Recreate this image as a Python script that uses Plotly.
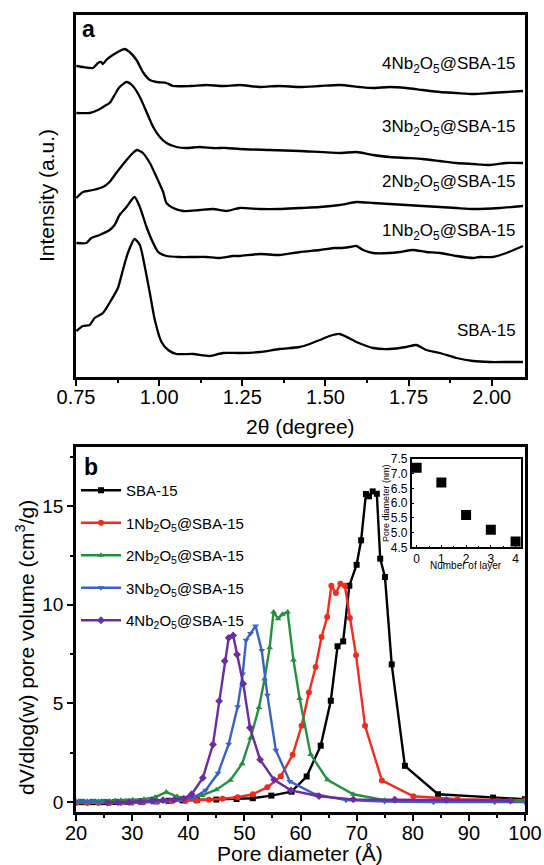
import plotly.graph_objects as go

# ---------------- Panel a: low-angle XRD (offset intensities, a.u.) ----------------
sba_x = [0.751, 0.771, 0.791, 0.806, 0.831, 0.856, 0.876, 0.891, 0.906, 0.926, 0.942, 0.957, 0.972,
         0.987, 1.007, 1.027, 1.052, 1.102, 1.152, 1.192, 1.242, 1.302, 1.362, 1.423, 1.453, 1.483,
         1.513, 1.543, 1.593, 1.643, 1.693, 1.743, 1.773, 1.803, 1.844, 1.894, 1.944, 1.994, 2.044, 2.094]
sba_y = [46, 51, 52, 59, 64, 77, 89, 107, 124, 138, 132, 110, 84, 57, 35, 27, 23, 23, 21, 24, 24, 25,
         28, 30, 33, 37, 41, 43, 35, 29, 28, 30, 32, 27, 24, 19, 16, 15, 15, 15]

nb1_x = [0.751, 0.781, 0.796, 0.821, 0.851, 0.866, 0.881, 0.902, 0.926, 0.942, 0.962, 0.982, 0.997,
         1.022, 1.062, 1.102, 1.142, 1.182, 1.222, 1.242, 1.302, 1.362, 1.423, 1.483, 1.528, 1.543,
         1.573, 1.593, 1.613, 1.643, 1.693, 1.723, 1.763, 1.803, 1.844, 1.894, 1.944, 1.964, 2.004,
         2.044, 2.094]
nb1_y = [134, 134, 139, 142, 147, 152, 162, 170, 180, 170, 150, 134, 125, 121, 120, 120, 120, 119, 121,
         121, 123, 122, 125, 127, 129, 129, 130, 131, 127, 124, 124, 125, 127, 125, 124, 121, 119, 120,
         120, 124, 131]

nb2_x = [0.751, 0.771, 0.801, 0.831, 0.851, 0.871, 0.902, 0.921, 0.933, 0.951, 0.972, 0.992, 1.012,
         1.022, 1.042, 1.072, 1.122, 1.162, 1.202, 1.242, 1.302, 1.362, 1.423, 1.483, 1.543, 1.593,
         1.643, 1.693, 1.743, 1.792, 1.844, 1.894, 1.944, 2.024, 2.094]
nb2_y = [179, 185, 187, 190, 195, 204, 217, 224, 227, 224, 214, 200, 185, 174, 169, 166, 167, 168, 166,
         169, 168, 168, 169, 170, 172, 175, 174, 173, 172, 171, 170, 169, 168, 169, 171]

nb3_x = [0.751, 0.791, 0.816, 0.836, 0.851, 0.866, 0.881, 0.902, 0.921, 0.942, 0.962, 0.982, 1.002,
         1.022, 1.052, 1.082, 1.122, 1.162, 1.202, 1.242, 1.332, 1.423, 1.543, 1.593, 1.643, 1.693,
         1.743, 1.792, 1.844, 1.894, 1.944, 1.994, 2.044, 2.094]
nb3_y = [264, 264, 267, 271, 274, 282, 290, 295, 291, 280, 265, 250, 240, 234, 230, 229, 230, 229, 229,
         228, 227, 226, 224, 225, 222, 220, 219, 218, 216, 214, 213, 212, 214, 214]

nb4_x = [0.751, 0.771, 0.801, 0.816, 0.826, 0.831, 0.841, 0.856, 0.876, 0.896, 0.911, 0.932, 0.951,
         0.972, 0.992, 1.022, 1.042, 1.092, 1.142, 1.192, 1.242, 1.302, 1.362, 1.423, 1.483, 1.543,
         1.603, 1.643, 1.693, 1.743, 1.792, 1.844, 1.894, 1.944, 1.994, 2.044, 2.094]
nb4_y = [311, 310, 309, 314, 315, 313, 317, 321, 325, 328, 325, 317, 305, 297, 295, 294, 291, 291, 292,
         291, 292, 290, 291, 290, 291, 292, 290, 289, 290, 289, 287, 285, 284, 283, 284, 285, 286]

xrd_labels = ["SBA-15", "1Nb<sub>2</sub>O<sub>5</sub>@SBA-15", "2Nb<sub>2</sub>O<sub>5</sub>@SBA-15",
              "3Nb<sub>2</sub>O<sub>5</sub>@SBA-15", "4Nb<sub>2</sub>O<sub>5</sub>@SBA-15"]
xrd_label_y = [47, 145, 194, 249, 312]

# ---------------- Panel b: BJH pore size distributions ----------------
psd_names = ["SBA-15", "1Nb<sub>2</sub>O<sub>5</sub>@SBA-15", "2Nb<sub>2</sub>O<sub>5</sub>@SBA-15",
             "3Nb<sub>2</sub>O<sub>5</sub>@SBA-15", "4Nb<sub>2</sub>O<sub>5</sub>@SBA-15"]

p0_x = [21, 23, 25, 27, 29, 31.5, 34, 36.5, 39, 41.5, 45, 48.6, 51.5, 54.8, 58.4, 61.1, 63.6, 65.4,
        66.6, 67.6, 68.7, 70.0, 70.8, 71.66, 72.2, 72.86, 73.6, 74.2, 75.05, 76.25, 78.6, 84.5, 94.3, 100]
p0_y = [0.0, 0.0, 0.0, 0.01, 0.02, 0.03, 0.05, 0.07, 0.09, 0.1, 0.13, 0.16, 0.2, 0.33, 0.53, 1.3, 2.86,
        5.14, 7.9, 8.15, 10.97, 12.03, 13.27, 15.62, 15.5, 15.75, 15.63, 12.34, 11.41, 6.98, 1.84, 0.4,
        0.23, 0.15]

p1_x = [20, 22, 24, 26, 28, 30, 32, 34.5, 37, 39.5, 41.5, 43.7, 46.1, 48.8, 51.5, 54.1, 56.5, 58.6,
        60.2, 61.5, 62.7, 63.75, 64.75, 65.5, 66.3, 67.1, 67.9, 68.8, 69.9, 71.5, 74.5, 80.1, 88, 100]
p1_y = [-0.05, -0.05, -0.05, -0.04, -0.03, -0.02, 0.0, 0.02, 0.04, 0.06, 0.08, 0.12, 0.17, 0.25, 0.4,
        0.75, 1.31, 2.4, 3.87, 5.56, 6.85, 8.37, 9.38, 10.97, 10.6, 11.07, 10.97, 9.33, 7.44, 3.87, 1.1,
        0.3, 0.15, 0.1]

p2_x = [20, 20.5, 21, 21.5, 22, 22.5, 23, 23.5, 24, 24.5, 25, 26, 27, 28, 30.1, 32.1, 34.1, 36.1, 38.0,
        39.9, 42.5, 45.0, 47.5, 49.6, 51.1, 52.6, 53.6, 54.5, 55.2, 56.0, 56.8, 57.7, 58.75, 59.85, 61.8,
        64.8, 69.4, 75, 85, 100]
p2_y = [0.05, 0.05, 0.05, 0.05, 0.05, 0.05, 0.05, 0.05, 0.05, 0.05, 0.05, 0.06, 0.08, 0.1, 0.12, 0.15,
        0.25, 0.51, 0.28, 0.22, 0.34, 0.63, 1.11, 1.95, 3.25, 4.8, 6.24, 7.82, 9.64, 9.3, 9.52, 9.64, 7.2,
        5.25, 2.42, 1.13, 0.4, 0.1, 0.05, 0.03]

p3_x = [20, 22, 24, 26, 28, 30, 32, 34, 36, 38.5, 40.8, 43.1, 45.3, 47.2, 48.8, 49.7, 50.3, 51.1, 52.0,
        53.1, 54.1, 55.6, 58.1, 62.6, 68.1, 75.0, 83.7, 94.6, 100]
p3_y = [0.05, 0.03, 0.0, -0.02, -0.03, -0.03, -0.02, 0.0, 0.05, 0.1, 0.2, 0.6, 1.46, 2.94, 4.83, 6.5,
        8.21, 8.55, 8.93, 7.68, 5.42, 2.63, 1.05, 0.4, 0.1, 0.03, 0.0, 0.0, 0.0]

p4_x = [25.6, 27.5, 29.5, 31.5, 33.5, 35.5, 37.5, 39.2, 40.6, 42.6, 44.4, 45.5, 46.5, 47.2, 48.0, 48.7,
        49.8, 51.0, 52.8, 55.3, 58.3, 63.3, 69.4, 76.8, 86.0, 97.4]
p4_y = [-0.02, -0.01, 0.0, 0.03, 0.07, 0.1, 0.12, 0.18, 0.4, 1.23, 2.92, 5.12, 7.15, 8.33, 8.45, 7.48,
        6.0, 3.77, 2.15, 1.13, 0.6, 0.3, 0.14, 0.12, 0.11, 0.08]

psd_colors = ["#000000", "#f42a1e", "#22903e", "#3a62c4", "#6a2c9e"]
psd_symbols = ["square", "circle", "triangle-up", "triangle-down", "diamond"]

# ---------------- Inset: pore diameter vs number of layers ----------------
layers = [0, 1, 2, 3, 4]
pore_nm = [7.2, 6.7, 5.6, 5.1, 4.7]

FONT = "Liberation Sans, Arial, Helvetica, sans-serif"
W, H = 544, 865


def px_x(p):
    return p / W


def px_y(p):
    return 1 - p / H


fig = go.Figure()

for xs, ys in [(sba_x, sba_y), (nb1_x, nb1_y), (nb2_x, nb2_y), (nb3_x, nb3_y), (nb4_x, nb4_y)]:
    fig.add_trace(go.Scatter(x=xs, y=ys, mode="lines", xaxis="x", yaxis="y",
                             line=dict(color="black", width=2.3, shape="spline", smoothing=0.6),
                             showlegend=False, hoverinfo="skip"))

for i, (xs, ys) in enumerate([(p0_x, p0_y), (p1_x, p1_y), (p2_x, p2_y), (p3_x, p3_y), (p4_x, p4_y)]):
    fig.add_trace(go.Scatter(x=xs, y=ys, mode="lines+markers", xaxis="x2", yaxis="y2",
                             name=psd_names[i], legendgroup="g%d" % i,
                             line=dict(color=psd_colors[i], width=2.4),
                             marker=dict(symbol=psd_symbols[i], size=6, color=psd_colors[i])))

fig.add_trace(go.Scatter(x=layers, y=pore_nm, mode="markers", xaxis="x3", yaxis="y3",
                         marker=dict(symbol="square", size=10, color="black"), showlegend=False))

axis_common = dict(showline=True, linecolor="black", linewidth=2.5, mirror=True, automargin=False,
                   showgrid=False, zeroline=False, ticks="outside", tickcolor="black",
                   tickwidth=2, ticklen=6)

fig.update_layout(
    width=W, height=H,
    margin=dict(l=0, r=0, t=0, b=0, pad=0),
    paper_bgcolor="white", plot_bgcolor="rgba(0,0,0,0)",
    font=dict(family=FONT, color="black", size=18),
    xaxis=dict(axis_common, domain=[px_x(76), px_x(525)], anchor="y", range=[0.75, 2.1],
               tickvals=[0.75, 1.0, 1.25, 1.5, 1.75, 2.0], tickformat=".2f", ticklabelstandoff=-6,
               minor=dict(dtick=0.125, tick0=0.75, ticks="outside", ticklen=3, tickcolor="black", tickwidth=2),
               tickfont=dict(size=20)),
    yaxis=dict(axis_common, domain=[px_y(377), px_y(15)], anchor="x", range=[0, 362],
               ticks="", showticklabels=False),
    xaxis2=dict(axis_common, domain=[px_x(76), px_x(525)], anchor="y2", range=[20, 100], dtick=10,
                ticklabelstandoff=-5,
                minor=dict(dtick=5, ticks="outside", ticklen=3, tickcolor="black", tickwidth=2),
                tickfont=dict(size=20)),
    yaxis2=dict(axis_common, domain=[px_y(812), px_y(447)], anchor="x2", range=[-0.5, 18],
                tickvals=[0, 5, 10, 15],
                minor=dict(dtick=2.5, tick0=0, ticks="outside", ticklen=3, tickcolor="black", tickwidth=2),
                tickfont=dict(size=19)),
    xaxis3=dict(showline=True, linecolor="black", linewidth=1.5, mirror=True, showgrid=False,
                automargin=False,
                zeroline=False, domain=[px_x(411.7), px_x(521)], anchor="y3", range=[-0.2, 4.22],
                dtick=1, ticks="inside", ticklen=3, tickcolor="black",
                minor=dict(dtick=0.5, ticks="inside", ticklen=2, tickcolor="black"),
                tickfont=dict(size=12)),
    yaxis3=dict(showline=True, linecolor="black", linewidth=1.5, mirror=True, showgrid=False,
                automargin=False,
                zeroline=False, domain=[px_y(547.3), px_y(459)], anchor="x3", range=[4.5, 7.5],
                dtick=0.5, tickformat=".1f", ticks="inside", ticklen=3, tickcolor="black",
                tickfont=dict(size=12)),
    legend=dict(x=px_x(76), y=px_y(474), xanchor="left", yanchor="top",
                bgcolor="rgba(0,0,0,0)", font=dict(size=15, family=FONT),
                tracegroupgap=10, itemwidth=40),
)

annotations = []
for lab, yv in zip(xrd_labels, xrd_label_y):
    annotations.append(dict(x=2.08, y=yv, xref="x", yref="y", text=lab, showarrow=False,
                            xanchor="right", yanchor="middle", font=dict(size=17)))
annotations.append(dict(x=px_x(80), y=px_y(29), xref="paper", yref="paper", text="<b>a</b>",
                        showarrow=False, xanchor="left", yanchor="middle", font=dict(size=23)))
annotations.append(dict(x=px_x(82), y=px_y(467), xref="paper", yref="paper", text="<b>b</b>",
                        showarrow=False, xanchor="left", yanchor="middle", font=dict(size=23)))
# axis titles
annotations.append(dict(x=px_x(300), y=px_y(426), xref="paper", yref="paper", text="2θ (degree)",
                        showarrow=False, xanchor="center", yanchor="middle", font=dict(size=21)))
annotations.append(dict(x=px_x(46), y=px_y(196), xref="paper", yref="paper", text="Intensity (a.u.)",
                        showarrow=False, textangle=-90, xanchor="center", yanchor="middle",
                        font=dict(size=21)))
annotations.append(dict(x=px_x(300), y=px_y(853), xref="paper", yref="paper", text="Pore diameter (Å)",
                        showarrow=False, xanchor="center", yanchor="middle", font=dict(size=21)))
annotations.append(dict(x=px_x(25), y=px_y(648), xref="paper", yref="paper",
                        text="dV/dlog(w) pore volume (cm<sup>3</sup>/g)",
                        showarrow=False, textangle=-90, xanchor="center", yanchor="middle",
                        font=dict(size=21)))
# inset titles
annotations.append(dict(x=px_x(386), y=px_y(503), xref="paper", yref="paper", text="Pore diameter (nm)",
                        showarrow=False, textangle=-90, xanchor="center", yanchor="middle",
                        font=dict(size=9)))
annotations.append(dict(x=px_x(466), y=px_y(565), xref="paper", yref="paper", text="Number of layer",
                        showarrow=False, xanchor="center", yanchor="middle", font=dict(size=10)))
fig.update_layout(annotations=annotations)

fig.write_html("out.html", config={"displayModeBar": False},
               post_script="document.body.style.margin='0px';document.body.style.overflow='hidden';")
